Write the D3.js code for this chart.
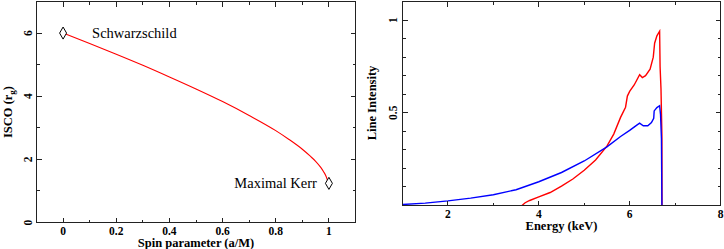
<!DOCTYPE html>
<html><head><meta charset="utf-8">
<script src="https://cdn.jsdelivr.net/npm/d3@7"></script>
<style>
html,body{margin:0;padding:0;background:#fff;}
svg text{font-family:"Liberation Serif","DejaVu Serif",serif;fill:#000;}
</style></head>
<body><svg id="c" width="724" height="249"></svg>
<script>
// ---- Left panel data ----
const spin = [0, 0.1, 0.2, 0.3, 0.4, 0.5, 0.6, 0.7, 0.8, 0.85, 0.9, 0.93, 0.95, 0.97, 0.98, 0.99, 0.998];
const isco = [6.00, 5.67, 5.33, 4.98, 4.61, 4.23, 3.83, 3.39, 2.91, 2.63, 2.32, 2.10, 1.94, 1.74, 1.61, 1.45, 1.24];
const markerSpin = [0, 1.0];
const markerIsco = [6.0, 1.24];
const markerLabels = ["Schwarzschild", "Maximal Kerr"];
const spinTicks = [0, 0.2, 0.4, 0.6, 0.8, 1];
const spinTickLabels = ["0", "0.2", "0.4", "0.6", "0.8", "1"];
const iscoTicks = [0, 2, 4, 6];

// ---- Right panel data ----
const blueE = [1.0, 1.5, 2.0, 2.5, 3.0, 3.5, 4.0, 4.5, 5.0, 5.5, 5.8, 6.0, 6.15, 6.22, 6.3, 6.4, 6.48, 6.53, 6.54, 6.6, 6.66, 6.68, 6.70, 6.71];
const blueI = [0.005, 0.013, 0.025, 0.040, 0.058, 0.085, 0.128, 0.178, 0.240, 0.316, 0.372, 0.405, 0.432, 0.444, 0.430, 0.430, 0.447, 0.470, 0.510, 0.528, 0.538, 0.490, 0.360, 0.0];
const redE = [3.63, 3.7, 3.8, 4.0, 4.25, 4.5, 4.75, 5.0, 5.25, 5.5, 5.65, 5.8, 5.91, 5.95, 6.0, 6.1, 6.22, 6.28, 6.35, 6.45, 6.52, 6.55, 6.6, 6.66, 6.67, 6.69, 6.71, 6.712];
const redI = [0.0, 0.015, 0.027, 0.046, 0.070, 0.105, 0.143, 0.190, 0.245, 0.320, 0.385, 0.475, 0.530, 0.590, 0.615, 0.650, 0.705, 0.690, 0.700, 0.735, 0.800, 0.875, 0.915, 0.940, 0.750, 0.630, 0.380, 0.0];
const eTicks = [2, 4, 6, 8];
const iTicks = [0.5, 1];
const iTickLabels = ["0.5", "1"];

const svg = d3.select("#c");

function frame(g, x, y, xMajor, xMinor, yMajor, yMinor, majL, minL) {
  const [x0, x1] = x.range(), [y0, y1] = y.range();
  const t = g.append("g").attr("stroke", "#222").attr("stroke-width", 1).attr("shape-rendering", "crispEdges");
  xMajor.forEach(v => {
    t.append("line").attr("x1", x(v)).attr("x2", x(v)).attr("y1", y0).attr("y2", y0 - majL);
    t.append("line").attr("x1", x(v)).attr("x2", x(v)).attr("y1", y1).attr("y2", y1 + majL);
  });
  xMinor.forEach(v => {
    t.append("line").attr("x1", x(v)).attr("x2", x(v)).attr("y1", y0).attr("y2", y0 - minL);
    t.append("line").attr("x1", x(v)).attr("x2", x(v)).attr("y1", y1).attr("y2", y1 + minL);
  });
  yMajor.forEach(v => {
    t.append("line").attr("y1", y(v)).attr("y2", y(v)).attr("x1", x0).attr("x2", x0 + majL);
    t.append("line").attr("y1", y(v)).attr("y2", y(v)).attr("x1", x1).attr("x2", x1 - majL);
  });
  yMinor.forEach(v => {
    t.append("line").attr("y1", y(v)).attr("y2", y(v)).attr("x1", x0).attr("x2", x0 + minL);
    t.append("line").attr("y1", y(v)).attr("y2", y(v)).attr("x1", x1).attr("x2", x1 - minL);
  });
  g.append("rect").attr("x", x0).attr("y", y1).attr("width", x1 - x0).attr("height", y0 - y1)
    .attr("fill", "none").attr("stroke", "#222").attr("stroke-width", 1).attr("shape-rendering", "crispEdges");
}

// ---------- Left panel ----------
{
  const x = d3.scaleLinear().domain([-0.1, 1.1]).range([36.5, 355.5]);
  const y = d3.scaleLinear().domain([0, 7]).range([222.5, 1.5]);
  const g = svg.append("g");
  const line = d3.line().x((d, i) => x(spin[i])).y((d, i) => y(isco[i])).curve(d3.curveMonotoneX);
  g.append("path").attr("d", line(spin)).attr("fill", "none").attr("stroke", "#ff0000").attr("stroke-width", 1.1);
  const minorX = d3.range(-0.1, 1.11, 0.1).map(v => +v.toFixed(2)).filter(v => !spinTicks.includes(v) && v > -0.1 && v < 1.1);
  frame(g, x, y, spinTicks, minorX, iscoTicks, [1, 3, 5], 5, 3);
  // markers
  const sym = d3.symbol().type(d3.symbolDiamond).size(42);
  markerSpin.forEach((s, i) => {
    g.append("path").attr("d", sym()).attr("transform", `translate(${x(s)},${y(markerIsco[i])})`)
      .attr("fill", "#fff").attr("stroke", "#000").attr("stroke-width", 1);
  });
  g.append("text").attr("x", x(markerSpin[0]) + 29).attr("y", y(markerIsco[0]) + 5).attr("font-size", 14.5).text(markerLabels[0]);
  g.append("text").attr("x", x(markerSpin[1]) - 12).attr("y", y(markerIsco[1]) + 5).attr("font-size", 14.5).attr("text-anchor", "end").text(markerLabels[1]);
  // tick labels
  spinTicks.forEach((v, i) => {
    g.append("text").attr("x", x(v)).attr("y", 235).attr("font-size", 11.5).attr("font-weight", "bold").attr("text-anchor", "middle").text(spinTickLabels[i]);
  });
  iscoTicks.forEach(v => {
    g.append("text").attr("transform", `translate(32,${y(v)}) rotate(-90)`).attr("font-size", 11.5).attr("font-weight", "bold").attr("text-anchor", "middle").text(v);
  });
  g.append("text").attr("x", (x(-0.1) + x(1.1)) / 2).attr("y", 247).attr("font-size", 12.5).attr("font-weight", "bold").attr("text-anchor", "middle").text("Spin parameter (a/M)");
  const yt = g.append("text").attr("transform", `translate(12,${y(3.5)}) rotate(-90)`).attr("font-size", 12.5).attr("font-weight", "bold").attr("text-anchor", "middle");
  yt.append("tspan").text("ISCO (r");
  yt.append("tspan").attr("font-size", 9).attr("dy", 3).text("g");
  yt.append("tspan").attr("dy", -3).text(")");
}

// ---------- Right panel ----------
{
  const x = d3.scaleLinear().domain([1, 8]).range([402.5, 720.5]);
  const y = d3.scaleLinear().domain([0, 1.1]).range([205.5, 1.5]);
  const g = svg.append("g");
  const line = d3.line().x(d => x(d[0])).y(d => y(d[1]));
  g.append("path").attr("d", line(redE.map((e, i) => [e, redI[i]]))).attr("fill", "none").attr("stroke", "#ff0000").attr("stroke-width", 1.4);
  g.append("path").attr("d", line(blueE.map((e, i) => [e, blueI[i]]))).attr("fill", "none").attr("stroke", "#0000ff").attr("stroke-width", 1.4);
  const minorY = d3.range(1, 11).map(v => +(v / 10).toFixed(1)).filter(v => !iTicks.includes(v));
  frame(g, x, y, eTicks, [3, 5, 7], iTicks, minorY, 5, 3);
  eTicks.forEach(v => {
    g.append("text").attr("x", x(v)).attr("y", 218).attr("font-size", 11.5).attr("font-weight", "bold").attr("text-anchor", "middle").text(v);
  });
  iTicks.forEach((v, i) => {
    g.append("text").attr("transform", `translate(397,${y(v)}) rotate(-90)`).attr("font-size", 11.5).attr("font-weight", "bold").attr("text-anchor", "middle").text(iTickLabels[i]);
  });
  g.append("text").attr("x", (x(1) + x(8)) / 2).attr("y", 230).attr("font-size", 12.5).attr("font-weight", "bold").attr("text-anchor", "middle").text("Energy (keV)");
  g.append("text").attr("transform", `translate(376,103) rotate(-90)`).attr("font-size", 12.5).attr("font-weight", "bold").attr("text-anchor", "middle").text("Line Intensity");
}
</script></body></html>
